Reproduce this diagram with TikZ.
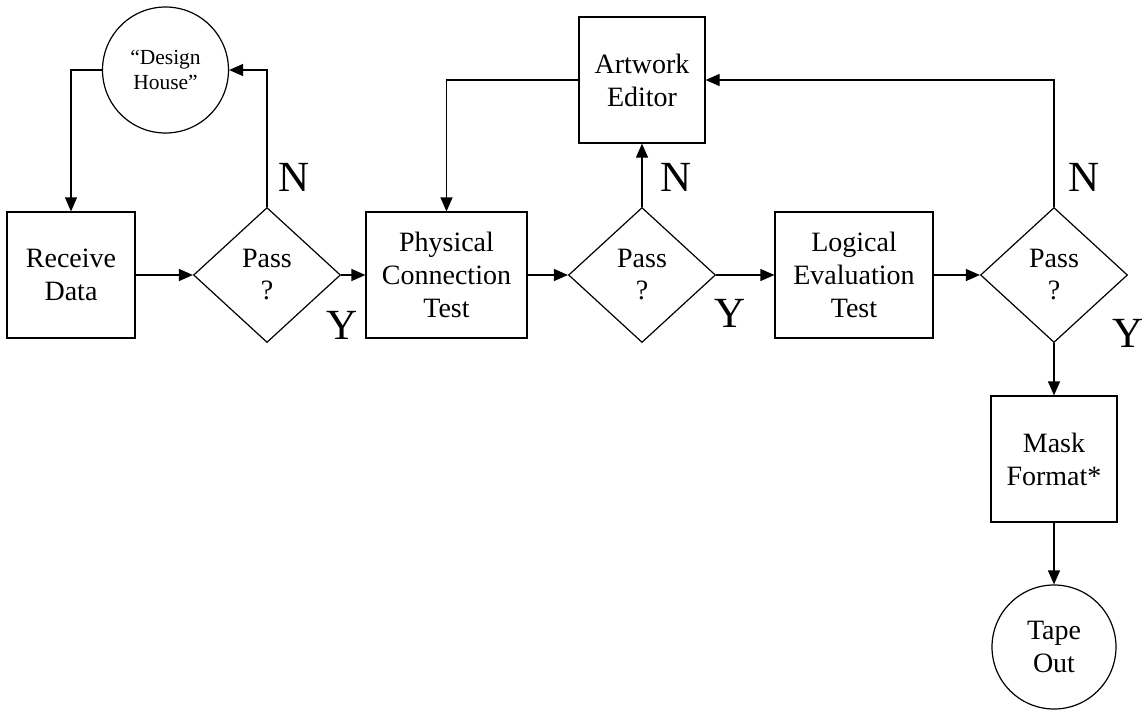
\documentclass[tikz,border=0pt]{standalone}
\usepackage{fontspec}
\setmainfont{Liberation Serif}
\usetikzlibrary{shapes.geometric,arrows.meta}
\begin{document}
\begin{tikzpicture}[x=1pt,y=-1pt,
  every node/.style={inner sep=0pt},
  stepbox/.style={draw,line width=1.2pt,rectangle,minimum height=126pt,align=center,font=\fontsize{28}{33}\selectfont},
  decision/.style={draw,line width=1.2pt,diamond,minimum width=147pt,minimum height=135pt,align=center,font=\fontsize{28}{32}\selectfont},
  terminal/.style={draw,line width=1.2pt,circle,align=center},
  yn/.style={font=\fontsize{43}{50}\selectfont},
  conn/.style={line width=1.2pt,-{Triangle[length=14pt,width=12pt]}}
]
\useasboundingbox (0,0) rectangle (1143,710);

\node[terminal,minimum size=126pt,font=\fontsize{21.5}{25}\selectfont] (dh) at (165.5,70) {“Design\\House”};
\node[stepbox,minimum width=128pt] (rd) at (71,275) {Receive\\Data};
\node[decision] (d1) at (267,275) {Pass\\?};
\node[stepbox,minimum width=161pt] (pc) at (446.5,275) {Physical\\Connection\\Test};
\node[decision] (d2) at (642,275) {Pass\\?};
\node[stepbox,minimum width=126pt] (ae) at (642,80) {Artwork\\Editor};
\node[stepbox,minimum width=158pt] (le) at (854,275) {Logical\\Evaluation\\Test};
\node[decision] (d3) at (1054,275) {Pass\\?};
\node[stepbox,minimum width=126pt] (mf) at (1054,459) {Mask\\Format*};
\node[terminal,minimum size=124pt,font=\fontsize{28}{33}\selectfont] (to) at (1054,647) {Tape\\Out};

\node[yn] (n1) at (294,177) {N};
\node[yn] (y1) at (342,325) {Y};
\node[yn] (n2) at (676,177) {N};
\node[yn] (y2) at (730,313) {Y};
\node[yn] (n3) at (1084,177) {N};
\node[yn] (y3) at (1128,333) {Y};

\draw[conn] (dh.west) -| (rd.north);
\draw[conn] (d1.north) |- (dh.east);
\draw[conn] (rd.east) -- (d1.west);
\draw[conn] (d1.east) -- (pc.west);
\draw[conn] (pc.east) -- (d2.west);
\draw[conn] (d2.north) -- (ae.south);
\draw[conn] (ae.west) -| (pc.north);
\draw[conn] (d2.east) -- (le.west);
\draw[conn] (le.east) -- (d3.west);
\draw[conn] (d3.north) |- (ae.east);
\draw[conn] (d3.south) -- (mf.north);
\draw[conn] (mf.south) -- (to.north);
\end{tikzpicture}
\end{document}
